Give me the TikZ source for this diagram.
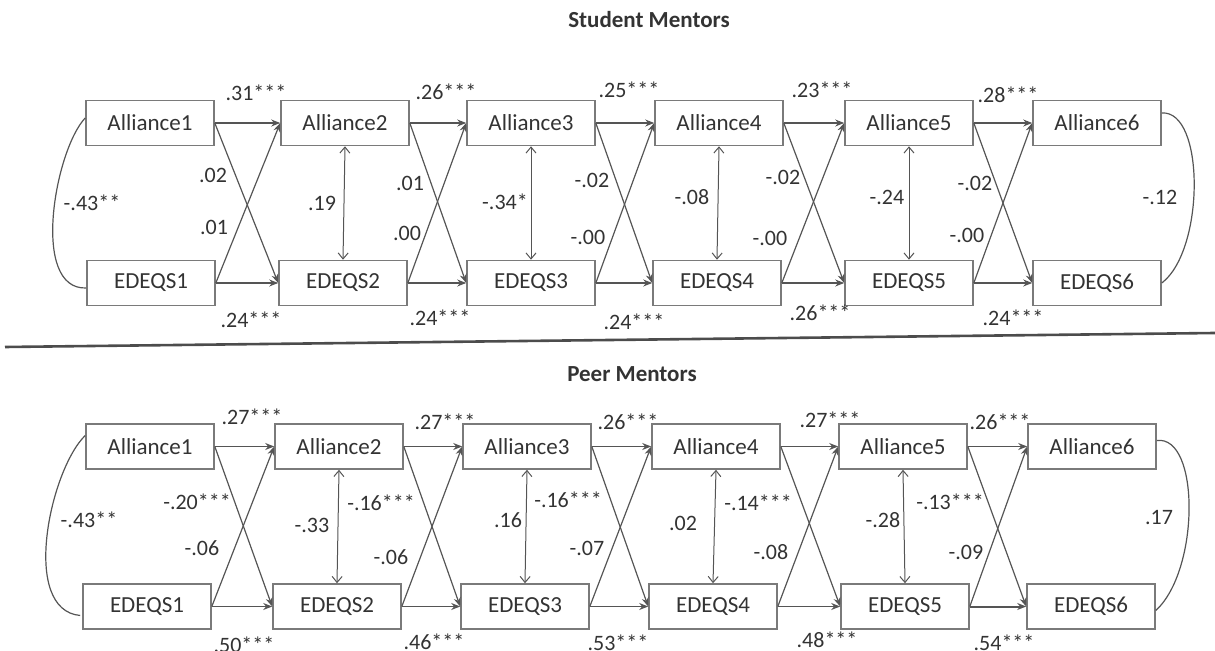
\documentclass[tikz,border=0pt]{standalone}
\usepackage{fontspec}
\setmainfont{Carlito}
\usetikzlibrary{arrows.meta}
\definecolor{txt}{HTML}{333333}
\definecolor{boxc}{HTML}{7A7A7A}
\definecolor{linec}{HTML}{555555}
\tikzset{
  var/.style={draw=boxc, line width=0.8pt, minimum width=64pt, minimum height=22.5pt, inner sep=0pt, font=\fontsize{11.5}{13}\selectfont, text=txt},
  lab/.style={font=\fontsize{11}{13}\selectfont, text=txt, inner sep=0pt},
  ttl/.style={font=\bfseries\fontsize{11.5}{13}\selectfont, text=txt, inner sep=0pt},
  pth/.style={draw=linec, line width=0.6pt, -{Stealth[length=4.5pt,width=3.5pt]}},
  cov/.style={draw=linec, line width=0.5pt, {Straight Barb[length=3pt,width=5pt]}-{Straight Barb[length=3pt,width=5pt]}},
  curv/.style={draw=linec, line width=0.6pt},
}
\begin{document}
\begin{tikzpicture}[x=0.5pt,y=-0.5pt]
\useasboundingbox (0,0) rectangle (1215,651);
% titles
\node[ttl] (title1) at (649,20) {Student Mentors};
\node[ttl] (title2) at (632,374) {Peer Mentors};
% separator
\coordinate (s1) at (5,347);
\coordinate (s2) at (1215,333);
\draw[line width=1.3pt, color=black!70] (s1) -- (s2);
% ---------- top panel ----------
\foreach \i/\xa/\xe in {1/150/151, 2/345/343, 3/531/531, 4/719/717, 5/909/909, 6/1097/1097} {
  \node[var] (A\i) at (\xa,123) {Alliance\i};
  \node[var] (E\i) at (\xe,283) {EDEQS\i};
}
\foreach \i/\j in {1/2,2/3,3/4,4/5} {
  \draw[pth] (A\i.east) -- (A\j.west);
  \draw[pth] (E\i.east) -- (E\j.west);
  \draw[pth] (A\i.east) -- (E\j.west);
  \draw[pth] (E\i.east) -- (A\j.west);
}
\draw[pth] (A5.east) -- (A6.west);
\draw[pth, line width=1pt] (E5.east) -- (E6.west);
\draw[pth] (A5.east) -- (E6.west);
\draw[pth] (E5.east) -- (A6.west);
\foreach \i in {2,...,5} { \draw[cov] (A\i.south) -- (E\i.north); }
\draw[curv] ([yshift=2.5pt]A1.west) .. controls (55,150) and (30,290) .. ([yshift=-2.5pt]E1.west);
\draw[curv] ([yshift=5pt]A6.east) .. controls (1205,110) and (1205,250) .. (E6.east);
\foreach \n/\x/\y/\t in {
  a1/256/93/.31***, a2/446/92/.26***, a3/629/90/.25***, a4/822/90/.23***, a5/1008/95/.28***,
  b1/251/320/.24***, b2/440/318/.24***, b3/634/322/.24***, b4/820/313/.26***, b5/1013/318/.24***,
  c1/213/175/.02, c2/214/227/.01, c3/92/203/-.43**, c4/322/203/.19,
  c5/410/183/.01, c6/407/233/.00, c7/505/202/-.34*, c8/592/180/-.02,
  c9/588/237/-.00, c10/692/197/-.08, c11/783/177/-.02, c12/770/238/-.00,
  c13/887/197/-.24, c14/975/183/-.02, c15/967/235/-.00, c16/1160/197/-.12} {
  \node[lab] (T\n) at (\x,\y) {\t};
}
% ---------- bottom panel ----------
\foreach \i/\xa/\xe in {1/150/147, 2/339/337, 3/527/525, 4/716/713, 5/903/905, 6/1092/1091} {
  \node[var] (PA\i) at (\xa,446.5) {Alliance\i};
  \node[var] (PE\i) at (\xe,606.5) {EDEQS\i};
}
\foreach \i/\j in {1/2,2/3,3/4,4/5} {
  \draw[pth] (PA\i.east) -- (PA\j.west);
  \draw[pth] (PE\i.east) -- (PE\j.west);
  \draw[pth] (PA\i.east) -- (PE\j.west);
  \draw[pth] (PE\i.east) -- (PA\j.west);
}
\draw[pth] (PA5.east) -- (PA6.west);
\draw[pth, line width=1pt] (PE5.east) -- (PE6.west);
\draw[pth] (PA5.east) -- (PE6.west);
\draw[pth] (PE5.east) -- (PA6.west);
\foreach \i in {2,...,5} { \draw[cov] (PA\i.south) -- (PE\i.north); }
\draw[curv] ([yshift=5.5pt]PA1.west) .. controls (50,470) and (20,610) .. ([yshift=-4.5pt,xshift=-1pt]PE1.west);
\draw[curv] ([yshift=3pt]PA6.east) .. controls (1200,435) and (1200,570) .. ([yshift=-2pt]PE6.east);
\foreach \n/\x/\y/\t in {
  a1/252/417/.27***, a2/445/422/.27***, a3/628/422/.26***, a4/830/420/.27***, a5/1000/422/.26***,
  b1/244/645/.50***, b2/434/642/.46***, b3/618/643/.53***, b4/827/640/.48***, b5/1004/643/.54***,
  c1/89/520/-.43**, c2/197/502/-.20***, c3/202/548/-.06, c4/312/525/-.33,
  c5/381/503/-.16***, c6/391/557/-.06, c7/508/520/.16, c8/568/500/-.16***,
  c9/587/548/-.07, c10/683/523/.02, c11/758/503/-.14***, c12/771/552/-.08,
  c13/883/520/-.28, c14/950/502/-.13***, c15/966/552/-.09, c16/1159/518/.17} {
  \node[lab] (P\n) at (\x,\y) {\t};
}
\end{tikzpicture}
\end{document}
